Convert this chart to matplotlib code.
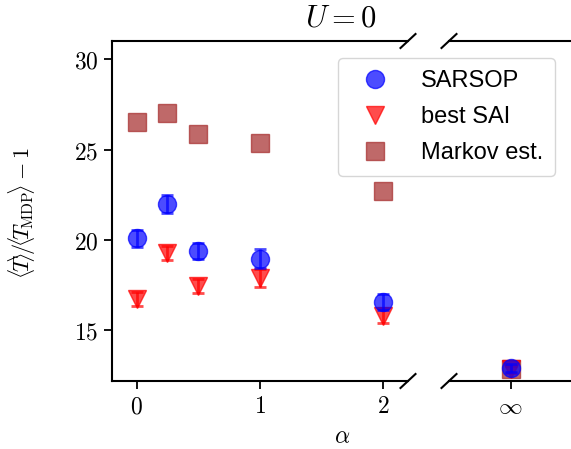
import numpy as np
import matplotlib
matplotlib.use("Agg")
import matplotlib.pyplot as plt
from matplotlib.lines import Line2D

plt.rcParams['mathtext.fontset'] = 'cm'
plt.rcParams['font.family'] = 'DejaVu Sans'

# data
alpha = [0, 0.25, 0.5, 1, 2]
sarsop = [20.08, 22.01, 19.39, 18.97, 16.57]
sarsop_err = [0.48, 0.5, 0.46, 0.52, 0.45]
sai = [16.73, 19.28, 17.44, 17.92, 15.82]
sai_err = [0.4, 0.4, 0.4, 0.5, 0.4]
markov = [26.5, 27.01, 25.87, 25.37, 22.73]

# alpha -> infinity
sarsop_inf, sarsop_inf_err = 12.92, 0.2
sai_inf, sai_inf_err = 12.85, 0.2
markov_inf = 12.86

yticks = [15, 20, 25, 30]
xticks = [0, 1, 2]

W, H = 571, 449
fig = plt.figure(figsize=(W / 100, H / 100), dpi=100)
bot, top = 1 - 381 / H, 1 - 41 / H
ax1 = fig.add_axes([112 / W, bot, (408 - 112) / W, top - bot])
ax2 = fig.add_axes([449 / W, bot, (572 - 449) / W, top - bot])

ms = 13
for ax, xs, s, se, t, te, m in [
        (ax1, alpha, sarsop, sarsop_err, sai, sai_err, markov),
        (ax2, [0], [sarsop_inf], [sarsop_inf_err], [sai_inf], [sai_inf_err], [markov_inf])]:
    ax.plot(xs, m, 's', color='brown', ms=ms, alpha=0.7, zorder=1)
    ax.errorbar(xs, t, yerr=te, fmt='v', color='r', ms=ms, alpha=0.7,
                elinewidth=2, capsize=4, capthick=2, zorder=2)
    ax.errorbar(xs, s, yerr=se, fmt='o', color='b', ms=ms, alpha=0.7,
                elinewidth=2, capsize=4, capthick=2, zorder=3)
    ax.set_ylim(12.2, 31.0)
    for sp in ax.spines.values():
        sp.set_linewidth(1.5)
    ax.tick_params(width=1.3, length=6, labelsize=17)

ax1.set_xlim(-0.2, 2.2)
ax1.set_xticks(xticks)
ax1.set_xticklabels([f'${v}$' for v in xticks])
ax1.set_yticks(yticks)
ax1.set_yticklabels([f'${v}$' for v in yticks])
ax1.spines['right'].set_visible(False)

ax2.set_xlim(-0.5, 0.5)
ax2.set_xticks([0])
ax2.set_xticklabels([r'$\infty$'])
ax2.set_yticks([])
ax2.spines['left'].set_visible(False)
ax2.spines['right'].set_visible(False)

# break marks
dx, dy = 15 / W, 14 / H
for xc in [408 / W, 449 / W]:
    for yc in [bot, top]:
        fig.add_artist(Line2D([xc - dx / 2, xc + dx / 2], [yc - dy / 2, yc + dy / 2],
                              color='k', lw=1.5, transform=fig.transFigure))

fig.text(22 / W, 1 - 213 / H,
         r'$\langle\!T\!\rangle\!/\!\langle\!T_{\!\rm MDP}\!\rangle - 1$',
         fontsize=16, rotation=90, ha='center', va='center')
fig.text(342 / W, 1 - 436 / H, r'$\alpha$', fontsize=17, ha='center', va='center')
fig.text(341 / W, 1 - 18 / H, r'$U=0$', fontsize=22, ha='center', va='center')

handles = [Line2D([], [], ls='none', marker='o', color='b', ms=ms, alpha=0.7),
           Line2D([], [], ls='none', marker='v', color='r', ms=ms, alpha=0.7),
           Line2D([], [], ls='none', marker='s', color='brown', ms=ms, alpha=0.7)]
labels = ['SARSOP', 'best SAI', 'Markov est.']
fig.legend(handles, labels, loc='upper right', bbox_to_anchor=(555 / W, 1 - 58 / H),
           prop={'family': 'Liberation Sans', 'size': 17}, borderaxespad=0,
           handlelength=2.1, handletextpad=0.9, borderpad=0.5, labelspacing=0.6)

fig.savefig('out.png', dpi=100)
